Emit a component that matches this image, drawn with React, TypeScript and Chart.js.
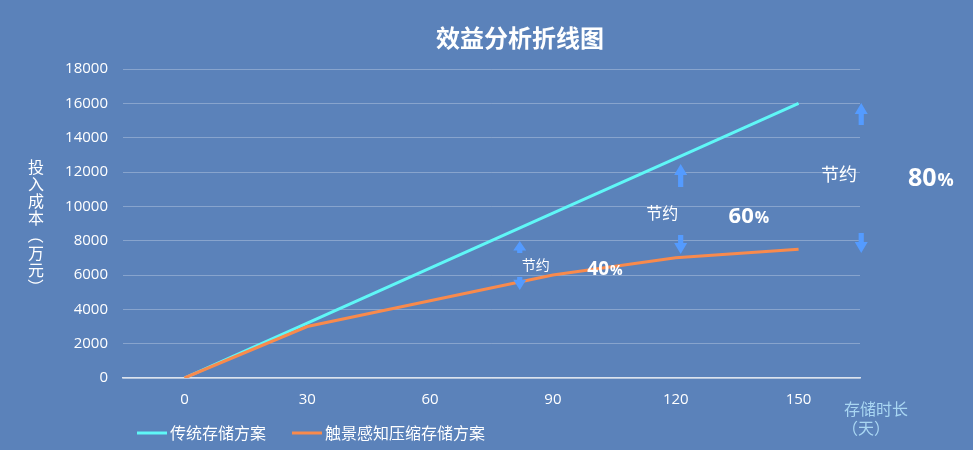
import React, { useEffect, useRef } from "react";
import { Chart, registerables } from "chart.js";

Chart.register(...registerables);

// ---- data ----
const categories = ["0", "30", "60", "90", "120", "150"];
const traditionalValues = [0, 3200, 6400, 9600, 12800, 16000];
const compressedValues = [0, 3000, 4500, 6000, 7000, 7500];
const seriesNames = ["传统存储方案", "触景感知压缩存储方案"];
const yMax = 18000;
const yStep = 2000;
const chartTitle = "效益分析折线图";
const yTitleChars = ["投", "入", "成", "本", "（", "万", "元", "）"];
const xTitleLines = ["存储时长", "（天）"];
const savingWord = "节约";
const savingPercents = ["40", "60", "80"];

// annotation placement (in data coordinates: x = category index, y = value)
const annArrowX = [2.73, 4.04, 5.51];
const annUp = [[7980, 7280], [12470, 11130], [16020, 14740]];
const annDown = [[5880, 5130], [8330, 7220], [8450, 7280]];
const annWordPos = [[2.86, 6580], [3.89, 9610], [5.33, 11880]];
const annPctPos = [[3.28, 6410], [4.43, 9500], [5.89, 11710]];
const annWordSize = [14, 16, 18];
const annPctSize = [19, 22, 25];

const BG = "#5B82BA";
const CYAN = "#5FF7F7";
const ORANGE = "#F98A4C";
const ARROW = "#549BFF";
const CJK = '"Noto Sans CJK SC", "Noto Sans", sans-serif';

function drawArrow(ctx: CanvasRenderingContext2D, x: number, tail: number, tip: number) {
  const dir = tip < tail ? -1 : 1;
  const len = Math.abs(tip - tail);
  const head = Math.min(11, len * 0.8);
  const hw = 6.5;
  const sw = 2.6;
  ctx.save();
  ctx.fillStyle = ARROW;
  ctx.beginPath();
  ctx.moveTo(x, tip);
  ctx.lineTo(x + hw, tip - dir * head);
  ctx.lineTo(x + sw, tip - dir * head);
  ctx.lineTo(x + sw, tail);
  ctx.lineTo(x - sw, tail);
  ctx.lineTo(x - sw, tip - dir * head);
  ctx.lineTo(x - hw, tip - dir * head);
  ctx.closePath();
  ctx.fill();
  ctx.restore();
}

const decorPlugin = {
  id: "decor",
  afterDraw(chart: any) {
    const ctx: CanvasRenderingContext2D = chart.ctx;
    const xs = chart.scales.x;
    const ys = chart.scales.y;
    ctx.save();
    // title
    ctx.fillStyle = "#ffffff";
    ctx.textAlign = "center";
    ctx.textBaseline = "middle";
    ctx.font = `bold 24px ${CJK}`;
    ctx.fillText(chartTitle, 520, 38);

    // y title (vertical stacked, brackets turned)
    ctx.font = `16px ${CJK}`;
    yTitleChars.forEach((c, i) => {
      const cy = 167 + i * 17.1;
      if (c === "（" || c === "）") {
        ctx.save();
        ctx.translate(36, cy);
        ctx.rotate(Math.PI / 2);
        ctx.fillText(c, 0, 0);
        ctx.restore();
      } else {
        ctx.fillText(c, 36, cy);
      }
    });

    // x title
    ctx.fillStyle = "#A9D6F2";
    ctx.font = `16px ${CJK}`;
    ctx.fillText(xTitleLines[0], 876, 409);
    ctx.fillText(xTitleLines[1], 866, 428);

    // legend
    const legendItems = [
      { color: CYAN, x: 137, text: seriesNames[0] },
      { color: ORANGE, x: 292, text: seriesNames[1] },
    ];
    legendItems.forEach((it) => {
      ctx.strokeStyle = it.color;
      ctx.lineWidth = 3;
      ctx.beginPath();
      ctx.moveTo(it.x, 433);
      ctx.lineTo(it.x + 30, 433);
      ctx.stroke();
      ctx.fillStyle = "#ffffff";
      ctx.textAlign = "left";
      ctx.font = `16px ${CJK}`;
      ctx.fillText(it.text, it.x + 33, 433);
    });

    // annotations
    savingPercents.forEach((p, i) => {
      const ax = xs.getPixelForValue(annArrowX[i]);
      drawArrow(ctx, ax, ys.getPixelForValue(annUp[i][1]), ys.getPixelForValue(annUp[i][0]));
      drawArrow(ctx, ax, ys.getPixelForValue(annDown[i][0]), ys.getPixelForValue(annDown[i][1]));

      ctx.fillStyle = "#ffffff";
      ctx.textAlign = "center";
      ctx.textBaseline = "middle";
      ctx.font = `${annWordSize[i]}px ${CJK}`;
      ctx.fillText(
        savingWord,
        xs.getPixelForValue(annWordPos[i][0]),
        ys.getPixelForValue(annWordPos[i][1])
      );

      const px = xs.getPixelForValue(annPctPos[i][0]);
      const pyc = ys.getPixelForValue(annPctPos[i][1]);
      const s = annPctSize[i];
      const base = pyc + s * 0.36;
      ctx.textAlign = "left";
      ctx.textBaseline = "alphabetic";
      ctx.font = `bold ${s}px "Open Sans", sans-serif`;
      ctx.fillText(p, px, base);
      const w = ctx.measureText(p).width;
      ctx.font = `bold ${Math.round(s * 0.72)}px "Open Sans", sans-serif`;
      ctx.fillText("%", px + w + 1, base);
    });
    ctx.restore();
  },
};

export default function App() {
  const canvasRef = useRef<HTMLCanvasElement | null>(null);

  useEffect(() => {
    document.body.style.margin = "0";
    const canvas = canvasRef.current;
    if (!canvas) return;
    const chart = new Chart(canvas, {
      type: "line",
      data: {
        labels: categories,
        datasets: [
          {
            label: seriesNames[0],
            data: traditionalValues,
            borderColor: CYAN,
            backgroundColor: CYAN,
            borderWidth: 3,
            pointRadius: 0,
            tension: 0,
            order: 1,
          },
          {
            label: seriesNames[1],
            data: compressedValues,
            borderColor: ORANGE,
            backgroundColor: ORANGE,
            borderWidth: 3,
            pointRadius: 0,
            tension: 0,
            order: 0,
          },
        ],
      },
      options: {
        responsive: false,
        animation: false,
        layout: { padding: { top: 69, right: 113, left: 0, bottom: 0 } },
        plugins: {
          legend: { display: false },
          title: { display: false },
          tooltip: { enabled: false },
        },
        scales: {
          x: {
            type: "category",
            offset: true,
            grid: { display: false, drawTicks: false },
            border: { display: true, color: "#DCE3EE", width: 1.5 },
            ticks: {
              color: "#ffffff",
              padding: 13,
              font: { family: '"Open Sans", sans-serif', size: 15 },
            },
            afterFit: (s: any) => {
              s.height = 72;
            },
          },
          y: {
            min: 0,
            max: yMax,
            ticks: {
              stepSize: yStep,
              color: "#ffffff",
              padding: 15,
              font: { family: '"Open Sans", sans-serif', size: 15 },
              callback: (v: any) => String(v),
            },
            grid: { color: "rgba(255,255,255,0.28)", drawTicks: false, lineWidth: 1 },
            border: { display: false },
            afterFit: (s: any) => {
              s.width = 123;
            },
          },
        },
      },
      plugins: [decorPlugin],
    } as any);
    return () => chart.destroy();
  }, []);

  return (
    <div
      style={{
        position: "absolute",
        left: 0,
        top: 0,
        width: 973,
        height: 450,
        background: BG,
      }}
    >
      <canvas ref={canvasRef} width={973} height={450} style={{ width: 973, height: 450 }} />
    </div>
  );
}
